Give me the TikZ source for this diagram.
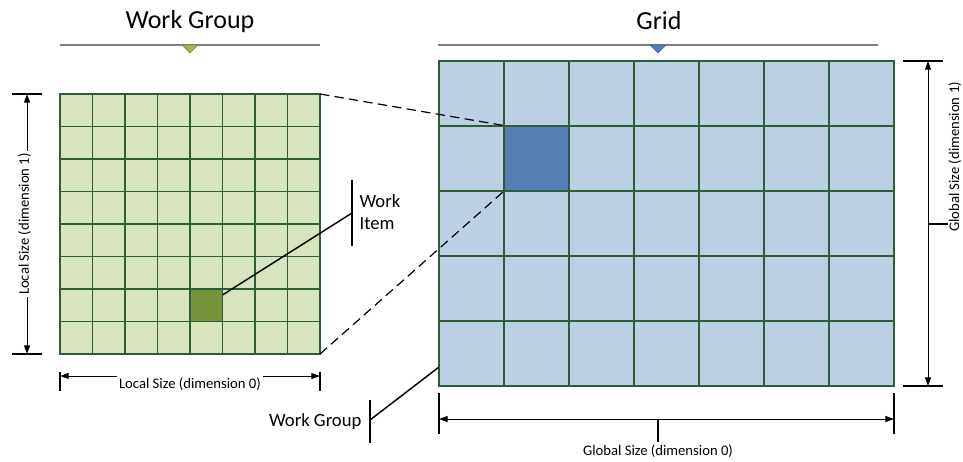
\documentclass[tikz,border=0pt]{standalone}
\usepackage{fontspec}
\setmainfont{Carlito}
\usetikzlibrary{arrows.meta,calc}
\definecolor{lgreen}{HTML}{D7E4BD}
\definecolor{dgreen}{HTML}{77933C}
\definecolor{lblue}{HTML}{BDCFE3}
\definecolor{dblue}{HTML}{5680B5}
\definecolor{gline}{HTML}{2E5C36}
\definecolor{tgreen}{HTML}{9BBB59}
\definecolor{tblue}{HTML}{4F81BD}
\definecolor{tline}{HTML}{7F7F7F}
\tikzset{
  gridline/.style={gline,line width=0.9pt},
  titletext/.style={font=\fontsize{19.5}{23}\selectfont,inner sep=0pt},
  lbl/.style={font=\fontsize{14}{16.5}\selectfont,inner sep=1pt},
  dimtext/.style={font=\fontsize{11}{13}\selectfont,fill=white,inner xsep=1.5pt,inner ysep=2pt},
  titlerule/.style={tline,line width=1pt},
  barline/.style={black,line width=1.5pt},
  dimline/.style={black,line width=0.75pt,{Triangle[length=6.5pt,width=4.5pt]}-{Triangle[length=6.5pt,width=4.5pt]}},
  leader/.style={black,line width=1.1pt},
  dashleader/.style={black,line width=0.9pt,dash pattern=on 7pt off 4pt},
}
\begin{document}
\begin{tikzpicture}[x=0.75pt,y=-0.75pt]
\useasboundingbox (0,0) rectangle (963,461);

% ---------- titles ----------
\node[titletext] (wgtitle) at (190,22) {Work Group};
\node[titletext] (gtitle) at (659,21) {Grid};
\draw[titlerule] (60,45) -- (320,45);
\draw[titlerule] (438,45) -- (878,45);
\filldraw[fill=tgreen,draw=tgreen!75!black,line width=0.4pt] (182,45) -- (198,45) -- (190,53) -- cycle;
\filldraw[fill=tblue,draw=tblue!75!black,line width=0.4pt] (650,45) -- (666,45) -- (658,53) -- cycle;

% ---------- work group grid (8 x 8) ----------
\fill[lgreen] (60,94) rectangle (320,354);
\foreach \i in {1,...,7} {
  \draw[gridline] ({60+\i*32.5},94) -- ({60+\i*32.5},354);
  \draw[gridline] (60,{94+\i*32.5}) -- (320,{94+\i*32.5});
}
\draw[gridline] (60,94) rectangle (320,354);
\coordinate (wgTR) at (320,94);
\coordinate (wgBR) at (320,354);

% work item leader (drawn under the cell)
\coordinate (wibar) at (352,213);
\draw[leader] (206.25,305.25) -- (wibar);
\node[fill=dgreen,draw=gline,line width=0.9pt,minimum size=24.375pt,inner sep=0pt] (witem) at (206.25,305.25) {};
\draw[barline] (352,180) -- (352,246);
\node[lbl,anchor=west,align=left] (witext) at (358,212) {Work\\Item};

% ---------- global grid (7 x 5) ----------
\fill[lblue] (439,61) rectangle (894,386);
\foreach \i in {1,...,6} {
  \draw[gridline] ({439+\i*65},61) -- ({439+\i*65},386);
}
\foreach \j in {1,...,4} {
  \draw[gridline] (439,{61+\j*65}) -- (894,{61+\j*65});
}
\node[fill=dblue,draw=gline,line width=0.9pt,minimum size=48.75pt,inner sep=0pt] (gcell) at (536.5,158.5) {};
\draw[gridline] (439,61) rectangle (894,386);

% dashed projection lines
\draw[dashleader] (wgTR) -- (gcell.north west);
\draw[dashleader] (wgBR) -- (gcell.south west);

% work group leader
\coordinate (gridpt) at (439,367);
\coordinate (wgbar) at (370,420);
\draw[leader] (wgbar) -- (gridpt);
\draw[barline] (370,400) -- (370,443);
\node[lbl,anchor=east] (wglabel) at (363,422) {Work Group};

% ---------- local size (dimension 0) ----------
\draw[barline] (60,372) -- (60,391);
\draw[barline] (320,372) -- (320,391);
\draw[dimline] (60,376) -- (320,376);
\node[dimtext] (ld0) at (190,384.5) {Local Size (dimension 0)};

% ---------- local size (dimension 1) ----------
\draw[barline] (12,94) -- (42,94);
\draw[barline] (12,354) -- (42,354);
\draw[dimline] (27,94) -- (27,354);
\node[dimtext,rotate=90] (ld1) at (24.5,224) {Local Size (dimension 1)};

% ---------- global size (dimension 0) ----------
\draw[barline] (439,393) -- (439,434);
\draw[barline] (894,393) -- (894,434);
\draw[dimline] (439,419) -- (894,419);
\draw[barline] (658,419) -- (658,442);
\node[dimtext] (gd0) at (658,451) {Global Size (dimension 0)};

% ---------- global size (dimension 1) ----------
\draw[barline] (903,61) -- (943,61);
\draw[barline] (903,386) -- (943,386);
\draw[dimline] (928,61) -- (928,386);
\draw[barline] (928,224) -- (948,224);
\node[font=\fontsize{11}{13}\selectfont,inner sep=0pt,rotate=90,anchor=base] (gd1) at (959,157) {Global Size (dimension 1)};
\end{tikzpicture}
\end{document}
